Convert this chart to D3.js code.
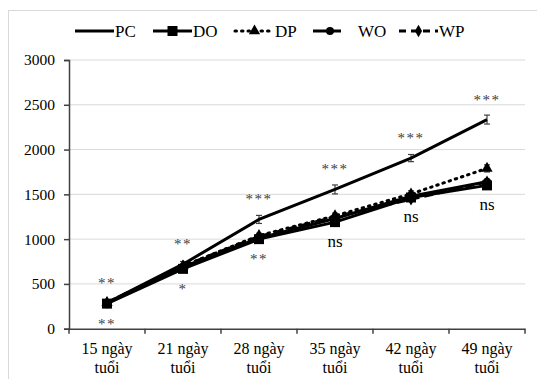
<!DOCTYPE html>
<html>
<head>
<meta charset="utf-8">
<script src="https://cdn.jsdelivr.net/npm/d3@7"></script>
<style>
  body { margin: 0; background: #fff; }
</style>
</head>
<body>
<svg id="chart" width="537" height="379"></svg>
<script>
// data
let ages = ["15 ngày tuổi", "21 ngày tuổi", "28 ngày tuổi", "35 ngày tuổi", "42 ngày tuổi", "49 ngày tuổi"];
let PC = [290, 720, 1220, 1555, 1905, 2335];
let DO = [280, 668, 1000, 1190, 1465, 1600];
let DP = [292, 700, 1040, 1260, 1505, 1790];
let WO = [285, 690, 1010, 1230, 1480, 1640];
let WP = [290, 700, 1030, 1250, 1445, 1640];
let errPC = [20, 30, 45, 50, 40, 50];
let errDP = [15, 20, 25, 30, 35, 40];
let sigTop = ["**", "**", "***", "***", "***", "***"];
let sigBottom = ["**", "*", "**", "ns", "ns", "ns"];
let yTicks = [0, 500, 1000, 1500, 2000, 2500, 3000];

let svg = d3.select('#chart');
let serif = "'Liberation Serif'";

// outer frame
svg.append('rect').attr('x', 8.5).attr('y', 10.5).attr('width', 560).attr('height', 400)
  .attr('fill', 'none').attr('stroke', '#d9d9d9');

let x = d3.scaleBand().domain(ages).range([69, 525]);
let y = d3.scaleLinear().domain([0, 3000]).range([328.7, 60]);
let cx = d => x(d) + x.bandwidth() / 2;

// gridlines
svg.append('g').selectAll('line').data(yTicks.slice(1)).join('line')
  .attr('x1', 69).attr('x2', 525).attr('y1', d => y(d)).attr('y2', d => y(d))
  .attr('stroke', '#d9d9d9').attr('stroke-width', 1);

// y axis
let yAxis = svg.append('g').attr('transform', 'translate(69,0)')
  .call(d3.axisLeft(y).tickValues(yTicks).tickFormat(d3.format('d')).tickSize(5).tickPadding(9));
yAxis.select('.domain').attr('stroke', '#404040').attr('stroke-width', 1.5);
yAxis.selectAll('.tick line').attr('stroke', '#404040').attr('stroke-width', 1.5);
yAxis.selectAll('text').attr('font-size', 15.5).attr('fill', '#000').style('font-family', serif);

// x axis
let xAxis = svg.append('g').attr('transform', 'translate(0,' + y(0) + ')')
  .call(d3.axisBottom(x).tickSize(0).tickFormat(''));
xAxis.select('.domain').attr('stroke', '#404040').attr('stroke-width', 1.5);
xAxis.selectAll('.bnd').data(d3.range(7)).join('line')
  .attr('x1', i => 69 + i * x.step()).attr('x2', i => 69 + i * x.step())
  .attr('y1', 0).attr('y2', 5).attr('stroke', '#404040').attr('stroke-width', 1.5);
let xl = svg.append('g').selectAll('text').data(ages).join('text')
  .attr('x', d => cx(d)).attr('text-anchor', 'middle')
  .attr('font-size', 16).attr('fill', '#000').style('font-family', serif);
xl.append('tspan').attr('x', d => cx(d)).attr('y', 354).text(d => d.split(' ').slice(0, 2).join(' '));
xl.append('tspan').attr('x', d => cx(d)).attr('y', 373).text(d => d.split(' ')[2]);

// series
let series = [
  {name: 'PC', values: PC, dash: null, marker: null},
  {name: 'DO', values: DO, dash: null, marker: 'square'},
  {name: 'DP', values: DP, dash: '1.5,5', marker: 'triangle'},
  {name: 'WO', values: WO, dash: null, marker: 'circle'},
  {name: 'WP', values: WP, dash: '9,5', marker: 'diamond'}
];
let shapes = {square: d3.symbolSquare, triangle: d3.symbolTriangle, circle: d3.symbolCircle, diamond: d3.symbolDiamond};
let sizes = {square: 100, triangle: 55, circle: 50, diamond: 45};

let line = d3.line().x((d, i) => cx(ages[i])).y(d => y(d));

// error bars
function errBars(vals, errs) {
  let g = svg.append('g').attr('stroke', '#404040').attr('stroke-width', 1.2);
  vals.forEach((v, i) => {
    let px = cx(ages[i]);
    g.append('line').attr('x1', px).attr('x2', px).attr('y1', y(v + errs[i])).attr('y2', y(v - errs[i]));
    g.append('line').attr('x1', px - 3).attr('x2', px + 3).attr('y1', y(v + errs[i])).attr('y2', y(v + errs[i]));
    g.append('line').attr('x1', px - 3).attr('x2', px + 3).attr('y1', y(v - errs[i])).attr('y2', y(v - errs[i]));
  });
}
errBars(PC, errPC);
errBars(DP, errDP);

series.slice().reverse().forEach(s => {
  let p = svg.append('path').datum(s.values).attr('d', line)
    .attr('fill', 'none').attr('stroke', '#000').attr('stroke-width', 3);
  if (s.dash) p.attr('stroke-dasharray', s.dash).attr('stroke-linecap', s.marker === 'triangle' ? 'round' : 'butt');
  if (s.marker) {
    svg.append('g').selectAll('path').data(s.values).join('path')
      .attr('transform', (d, i) => 'translate(' + cx(ages[i]) + ',' + y(d) + ')')
      .attr('d', d3.symbol().type(shapes[s.marker]).size(sizes[s.marker]))
      .attr('fill', '#000');
  }
});

// significance labels
svg.append('g').selectAll('text').data(sigTop).join('text')
  .attr('x', (d, i) => cx(ages[i])).attr('y', (d, i) => y(PC[i]) - 15)
  .attr('text-anchor', 'middle').attr('font-size', 15).attr('letter-spacing', 1.5)
  .attr('fill', '#404040').style('font-family', serif).text(d => d);
svg.append('g').selectAll('text').data(sigBottom).join('text')
  .attr('x', (d, i) => cx(ages[i])).attr('y', (d, i) => y(DO[i]) + 25)
  .attr('text-anchor', 'middle')
  .attr('font-size', d => d === 'ns' ? 17 : 15).attr('letter-spacing', d => d === 'ns' ? 0 : 1.5)
  .attr('fill', d => d === 'ns' ? '#000' : '#404040').style('font-family', serif).text(d => d);

// legend
let legX = [75, 153, 235, 313, 399];
let legG = svg.append('g').attr('transform', 'translate(0,31)');
series.forEach((s, i) => {
  let g = legG.append('g').attr('transform', 'translate(' + legX[i] + ',0)');
  let len = s.name === 'WO' ? 28 : 39;
  let l = g.append('line').attr('x1', 0).attr('x2', len).attr('stroke', '#000').attr('stroke-width', 3);
  if (s.dash) l.attr('stroke-dasharray', s.name === 'DP' ? '1.5,5' : '7,5').attr('stroke-linecap', s.name === 'DP' ? 'round' : 'butt');
  if (s.marker) {
    g.append('path').attr('transform', 'translate(' + (s.name === 'WO' ? 17 : len / 2) + ',0)')
      .attr('d', d3.symbol().type(shapes[s.marker]).size(sizes[s.marker])).attr('fill', '#000');
  }
  g.append('text').attr('x', s.name === 'WO' ? 45 : len + 1).attr('y', 5.5)
    .attr('font-size', 17).attr('fill', '#000').style('font-family', serif).text(s.name);
});
</script>
</body>
</html>
